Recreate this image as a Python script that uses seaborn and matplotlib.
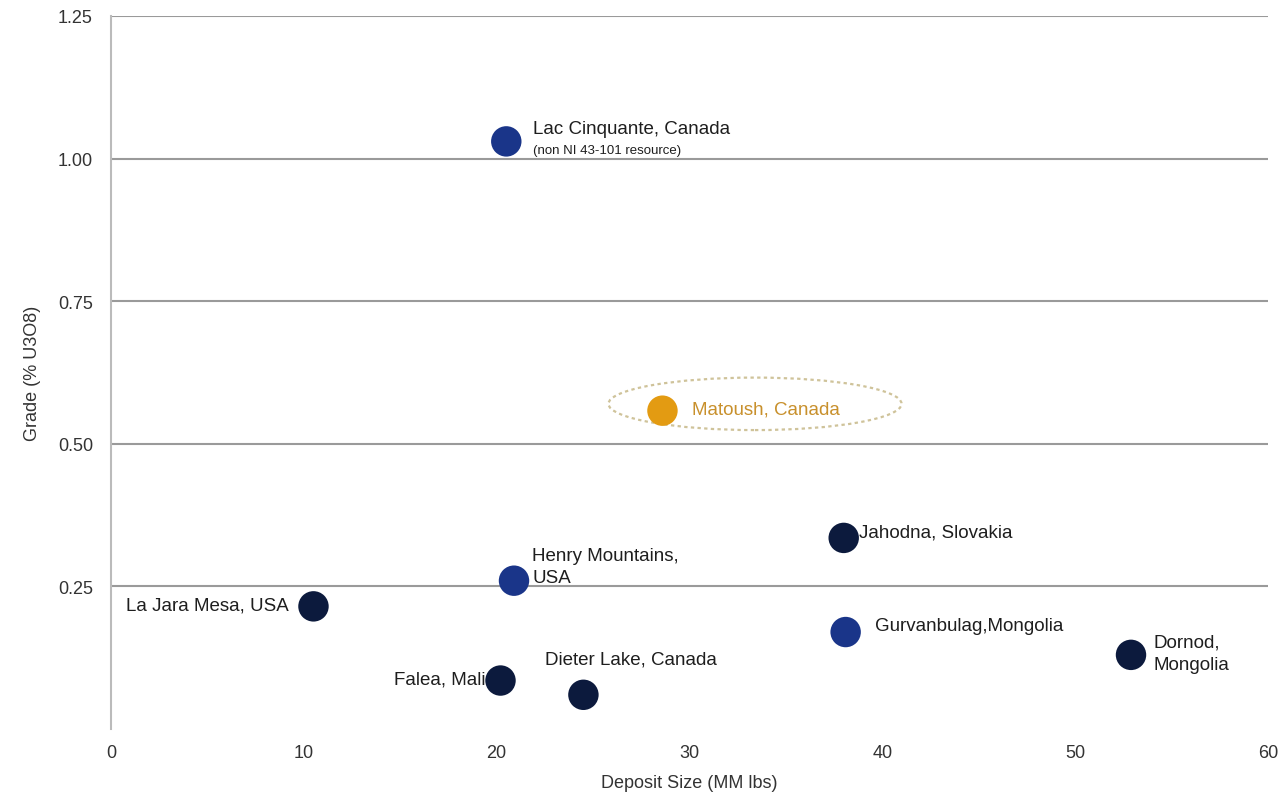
import seaborn as sns
import matplotlib.pyplot as plt
from matplotlib.patches import Ellipse
import pandas as pd

# data
deposits = ['Lac Cinquante, Canada', 'Matoush, Canada', 'Jahodna, Slovakia',
            'Henry Mountains,\nUSA', 'La Jara Mesa, USA', 'Gurvanbulag,Mongolia',
            'Dornod,\nMongolia', 'Falea, Mali', 'Dieter Lake, Canada']
size_mmlbs = [20.5, 28.6, 38.0, 20.9, 10.5, 38.1, 52.9, 20.2, 24.5]
grade_u3o8 = [1.03, 0.558, 0.335, 0.26, 0.215, 0.17, 0.13, 0.085, 0.06]
group = ['blue', 'matoush', 'navy', 'blue', 'navy', 'blue', 'navy', 'navy', 'navy']

# label offsets in points and alignment
offsets = [(19, 9), (21, 1), (11, 4), (13, 10), (-18, 1), (21, 5), (16, 1), (-11, 1), (-28, 26)]
aligns = ['left', 'left', 'left', 'left', 'right', 'left', 'left', 'right', 'left']

df = pd.DataFrame({'Deposit': deposits, 'Size': size_mmlbs, 'Grade': grade_u3o8, 'Group': group})

sns.set_style('white')
plt.rcParams['font.family'] = ['Liberation Sans', 'DejaVu Sans']

fig = plt.figure(figsize=(12.82, 8.04), dpi=100)
ax = fig.add_axes([0.0866, 0.092, 0.9024, 0.887])

palette = {'navy': '#0c1a3d', 'blue': '#1a3589', 'matoush': '#e39b12'}
sns.scatterplot(data=df, x='Size', y='Grade', hue='Group', palette=palette,
                s=480, edgecolor='none', legend=False, ax=ax, zorder=3)

# dotted highlight around Matoush
ax.add_patch(Ellipse((33.4, 0.57), 15.2, 0.092, fill=False, edgecolor='#cfc39a',
                     linestyle=(0, (1.5, 1.5)), linewidth=1.6, zorder=2))

for name, x, y, off, ha, g in zip(deposits, size_mmlbs, grade_u3o8, offsets, aligns, group):
    color = '#c8902c' if g == 'matoush' else '#1e1e1e'
    ax.annotate(name, (x, y), xytext=off, textcoords='offset points', ha=ha, va='center',
                fontsize=13.5, color=color, linespacing=1.4)

ax.annotate('(non NI 43-101 resource)', (20.5, 1.03), xytext=(19, -6.5),
            textcoords='offset points', ha='left', va='center', fontsize=9.5, color='#1e1e1e')

ax.set_xlim(0, 60)
ax.set_ylim(0, 1.25)
ax.set_xticks([0, 10, 20, 30, 40, 50, 60])
ax.set_yticks([0.25, 0.5, 0.75, 1.0, 1.25])
ax.set_yticklabels(['0.25', '0.50', '0.75', '1.00', '1.25'])
ax.tick_params(axis='both', length=0, labelsize=13, colors='#333333')
ax.tick_params(axis='y', pad=13)
ax.tick_params(axis='x', pad=11)
ax.yaxis.grid(True, color='#9a9a9a', linewidth=1.5)
ax.set_axisbelow(True)

for side in ['top', 'right', 'bottom']:
    ax.spines[side].set_visible(False)
ax.spines['left'].set_color('#bbbbbb')
ax.spines['left'].set_linewidth(1.5)

ax.set_xlabel('Deposit Size (MM lbs)', fontsize=13, color='#333333', labelpad=9)
ax.set_ylabel('Grade (% U3O8)', fontsize=13, color='#333333', labelpad=12)

fig.savefig('out.png', dpi=100)
